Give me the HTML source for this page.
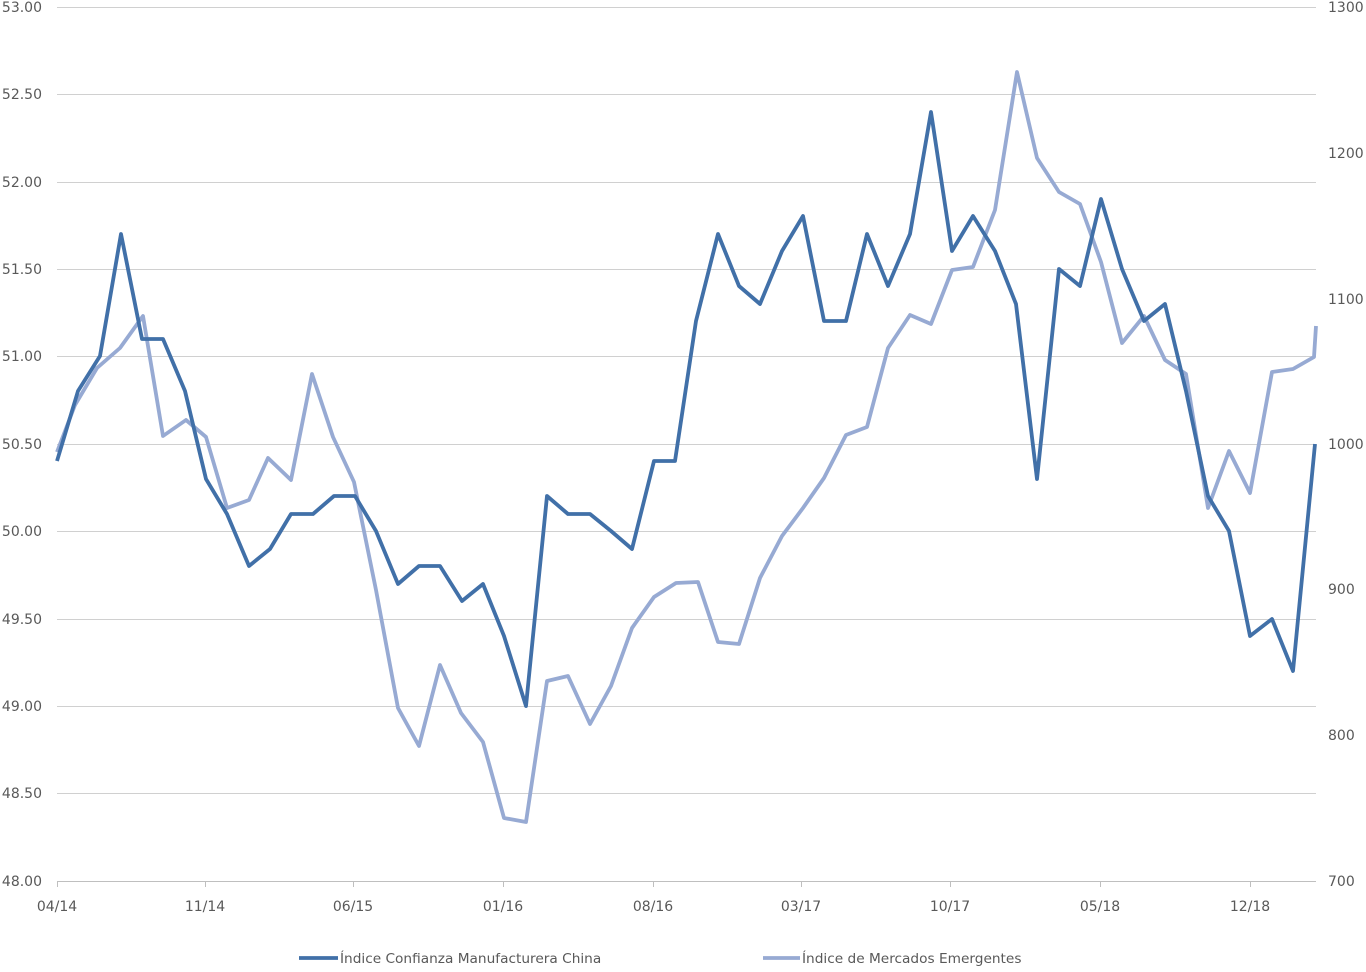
<!DOCTYPE html>
<html><head><meta charset="utf-8"><style>
body{margin:0;background:#fff;}
svg text{font-family:"DejaVu Sans","Liberation Sans",sans-serif;fill:#595959;}
</style></head><body>
<svg width="1366" height="967" viewBox="0 0 1366 967" xmlns="http://www.w3.org/2000/svg">
<g stroke="#d0d0d0" stroke-width="1">
<line x1="57" x2="1316" y1="7.5" y2="7.5"/>
<line x1="57" x2="1316" y1="94.5" y2="94.5"/>
<line x1="57" x2="1316" y1="182.5" y2="182.5"/>
<line x1="57" x2="1316" y1="269.5" y2="269.5"/>
<line x1="57" x2="1316" y1="356.5" y2="356.5"/>
<line x1="57" x2="1316" y1="444.5" y2="444.5"/>
<line x1="57" x2="1316" y1="531.5" y2="531.5"/>
<line x1="57" x2="1316" y1="619.5" y2="619.5"/>
<line x1="57" x2="1316" y1="706.5" y2="706.5"/>
<line x1="57" x2="1316" y1="793.5" y2="793.5"/>
</g>
<g stroke="#bfbfbf" stroke-width="1">
<line x1="57" x2="1316" y1="881.5" y2="881.5"/>
<line x1="57.5" x2="57.5" y1="881" y2="887"/>
<line x1="205.5" x2="205.5" y1="881" y2="887"/>
<line x1="353.5" x2="353.5" y1="881" y2="887"/>
<line x1="503.5" x2="503.5" y1="881" y2="887"/>
<line x1="653.5" x2="653.5" y1="881" y2="887"/>
<line x1="801.5" x2="801.5" y1="881" y2="887"/>
<line x1="950.5" x2="950.5" y1="881" y2="887"/>
<line x1="1100.5" x2="1100.5" y1="881" y2="887"/>
<line x1="1250.5" x2="1250.5" y1="881" y2="887"/>
</g>
<g font-size="14" text-anchor="end">
<text x="42" y="12">53.00</text><text x="42" y="99">52.50</text><text x="42" y="187">52.00</text>
<text x="42" y="274">51.50</text><text x="42" y="361">51.00</text><text x="42" y="449">50.50</text>
<text x="42" y="536">50.00</text><text x="42" y="624">49.50</text><text x="42" y="711">49.00</text>
<text x="42" y="798">48.50</text><text x="42" y="886">48.00</text>
</g>
<g font-size="14" text-anchor="start">
<text x="1328" y="12">1300</text><text x="1328" y="158">1200</text><text x="1328" y="304">1100</text>
<text x="1328" y="449">1000</text><text x="1328" y="594">900</text><text x="1328" y="740">800</text>
<text x="1328" y="886">700</text>
</g>
<g font-size="14" text-anchor="middle">
<text x="57" y="911">04/14</text><text x="205" y="911">11/14</text><text x="353" y="911">06/15</text>
<text x="503" y="911">01/16</text><text x="653" y="911">08/16</text><text x="801" y="911">03/17</text>
<text x="950" y="911">10/17</text><text x="1100" y="911">05/18</text><text x="1250" y="911">12/18</text>
</g>
<polyline fill="none" stroke="#97aad3" stroke-width="3.8" stroke-linejoin="round" points="57,452 75,405 97,368 120,348 143,316 163,436 186,420 206,437 227,508 249,500 268,458 291,480 312,374 333,437 354,482 376,590 398,708 419,746 440,665 461,713 483,742 504,818 526,822 547,681 568,676 590,724 611,686 632,628 654,597 676,583 698,582 718,642 739,644 760,578 782,536 803,508 824,478 846,435 867,427 888,348 910,315 931,324 952,270 973,267 995,210 1017,72 1037,158 1059,192 1080,204 1101,262 1122,343 1144,316 1165,360 1186,374 1208,508 1229,451 1250,493 1272,372 1293,369 1314,357 1316,326"/>
<polyline fill="none" stroke="#4170a8" stroke-width="3.8" stroke-linejoin="round" points="57,461 78,391 100,356 121,234 142,339 163,339 185,391 206,479 227,514 249,566 270,549 291,514 313,514 334,496 355,496 376,531 398,584 419,566 440,566 462,601 483,584 504,636 526,706 547,496 568,514 590,514 611,531 632,549 654,461 675,461 696,321 718,234 739,286 760,304 782,251 803,216 824,321 846,321 867,234 888,286 910,234 931,112 952,251 973,216 995,251 1016,304 1037,479 1059,269 1080,286 1101,199 1122,269 1144,321 1165,304 1186,391 1208,496 1229,531 1250,636 1272,619 1293,671 1315,444"/>
<line x1="299" x2="338" y1="958" y2="958" stroke="#4170a8" stroke-width="3.8"/>
<text x="340" y="963" font-size="13.7">Índice Confianza Manufacturera China</text>
<line x1="763" x2="800" y1="958" y2="958" stroke="#97aad3" stroke-width="3.8"/>
<text x="802" y="963" font-size="13.7">Índice de Mercados Emergentes</text>
</svg>
</body></html>
